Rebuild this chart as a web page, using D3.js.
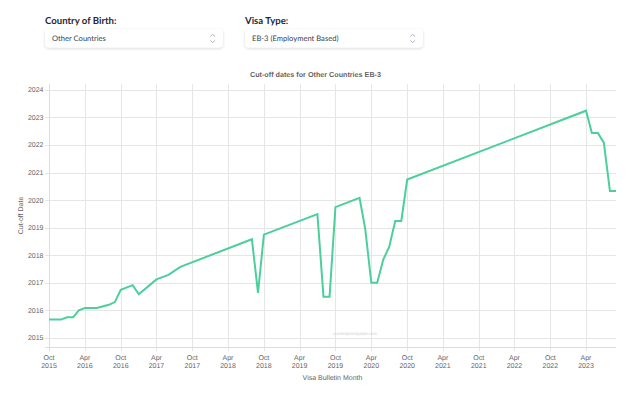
<!DOCTYPE html>
<html>
<head>
<meta charset="utf-8">
<script src="https://cdn.jsdelivr.net/npm/d3@7"></script>
<style>
  body { margin: 0; background: #fff; }
  svg { display: block; text-rendering: geometricPrecision; }
</style>
</head>
<body>
<svg width="640" height="400"></svg>
<script>
// Visa bulletin month and the EB-3 cut-off date it printed
var bulletinMonths = [
  "2015-10", "2015-12", "2016-01", "2016-02", "2016-03", "2016-04", "2016-06",
  "2016-08", "2016-09", "2016-10", "2016-12", "2017-01", "2017-04", "2017-06",
  "2017-08", "2018-08", "2018-09", "2018-10", "2019-07", "2019-08", "2019-09",
  "2019-10", "2020-02", "2020-03", "2020-04", "2020-05", "2020-06", "2020-07",
  "2020-08", "2020-09", "2020-10", "2023-04", "2023-05", "2023-06", "2023-07",
  "2023-08", "2023-09"
];
var cutoffDates = [
  "2015-09-01", "2015-09-01", "2015-10-01", "2015-10-01", "2016-01-01", "2016-02-01", "2016-02-01",
  "2016-03-15", "2016-04-20", "2016-10-01", "2016-12-01", "2016-08-01", "2017-02-15", "2017-04-15",
  "2017-08-01", "2018-08-01", "2016-08-20", "2018-10-01", "2019-07-01", "2016-07-01", "2016-07-01",
  "2019-10-01", "2020-02-01", "2018-12-15", "2017-01-01", "2017-01-01", "2017-11-05", "2018-04-20",
  "2019-04-01", "2019-04-01", "2020-10-01", "2023-04-01", "2022-06-08", "2022-06-08", "2022-02-01",
  "2020-05-01", "2020-05-01"
];
var xTickMonths = [
  "2015-10", "2016-04", "2016-10", "2017-04", "2017-10", "2018-04", "2018-10", "2019-04",
  "2019-10", "2020-04", "2020-10", "2021-04", "2021-10", "2022-04", "2022-10", "2023-04"
];
var yTickYears = [2015, 2016, 2017, 2018, 2019, 2020, 2021, 2022, 2023, 2024];

var countryLabel = "Country of Birth:";
var countryChoice = "Other Countries";
var visaLabel = "Visa Type:";
var visaChoice = "EB-3 (Employment Based)";
var chartTitle = "Cut-off dates for Other Countries EB-3";

var parseMonth = d3.timeParse("%Y-%m");
var parseDay = d3.timeParse("%Y-%m-%d");

var data = bulletinMonths.map(function(m, i) {
  return { month: parseMonth(m), cutoff: parseDay(cutoffDates[i]) };
});

var svg = d3.select("svg");

// drop-down controls at the top
var defs = svg.append("defs");
var shadow = defs.append("filter").attr("id", "shadow")
  .attr("x", "-10%").attr("y", "-30%").attr("width", "120%").attr("height", "170%");
shadow.append("feDropShadow")
  .attr("dx", 0).attr("dy", 1).attr("stdDeviation", 1.6)
  .attr("flood-color", "#000").attr("flood-opacity", 0.16);

function dropDown(x, label, choice) {
  var g = svg.append("g").attr("transform", "translate(" + x + ",0)");
  g.append("text")
    .attr("x", 0).attr("y", 24)
    .style("font-family", "Lato, sans-serif")
    .style("font-weight", 700)
    .style("font-size", "9.6px")
    .style("fill", "#1f2937")
    .text(label);
  g.append("rect")
    .attr("x", 0).attr("y", 29)
    .attr("width", 178).attr("height", 18.5)
    .attr("rx", 4)
    .style("fill", "#fff")
    .attr("filter", "url(#shadow)");
  g.append("text")
    .attr("x", 7).attr("y", 38.5)
    .attr("dy", "0.35em")
    .style("font-family", "Lato, sans-serif")
    .style("font-size", "7.6px")
    .style("fill", "#374151")
    .text(choice);
  g.append("path")
    .attr("d", "M165.3,36.6 L167.7,34.4 L170.1,36.6 M165.3,40.4 L167.7,42.6 L170.1,40.4")
    .style("fill", "none")
    .style("stroke", "#9ca3af")
    .style("stroke-width", 0.8);
}
dropDown(45, countryLabel, countryChoice);
dropDown(245, visaLabel, visaChoice);

// chart area
var plotLeft = 49, plotRight = 616, plotTop = 84, plotBottom = 347;

var x = d3.scaleTime()
  .domain([parseMonth("2015-10"), parseMonth("2023-09")])
  .range([plotLeft, plotRight]);
var y = d3.scaleTime()
  .domain([parseDay("2014-09-03"), parseDay("2024-03-20")])
  .range([plotBottom, plotTop]);

var xTicks = xTickMonths.map(parseMonth);
var yTicks = yTickYears.map(function(yr) { return new Date(yr, 0, 1); });

var gridColor = "#e6e6e6";
var textColor = "#666";
var chartFont = "'Liberation Sans', Arial, sans-serif";

// vertical grid
svg.append("g")
  .selectAll("line")
  .data(xTicks)
  .enter().append("line")
  .attr("x1", function(d) { return Math.round(x(d)) + 0.5; })
  .attr("x2", function(d) { return Math.round(x(d)) + 0.5; })
  .attr("y1", plotTop).attr("y2", plotBottom + 4)
  .style("stroke", gridColor);

// horizontal grid
svg.append("g")
  .selectAll("line")
  .data(yTicks)
  .enter().append("line")
  .attr("x1", plotLeft - 4).attr("x2", plotRight)
  .attr("y1", function(d) { return Math.round(y(d)) + 0.5; })
  .attr("y2", function(d) { return Math.round(y(d)) + 0.5; })
  .style("stroke", gridColor);

// axis lines
svg.append("line")
  .attr("x1", plotLeft - 4).attr("x2", plotRight)
  .attr("y1", plotBottom + 0.5).attr("y2", plotBottom + 0.5)
  .style("stroke", "#dcdcdc");
svg.append("line")
  .attr("x1", plotLeft + 0.5).attr("x2", plotLeft + 0.5)
  .attr("y1", plotTop).attr("y2", plotBottom + 4)
  .style("stroke", "#dcdcdc");

// x tick labels, two lines
var fmtMon = d3.timeFormat("%b"), fmtYear = d3.timeFormat("%Y");
var xLab = svg.append("g")
  .selectAll("text")
  .data(xTicks)
  .enter().append("text")
  .attr("text-anchor", "middle")
  .style("font-family", chartFont)
  .style("font-size", "7px")
  .style("fill", textColor);
xLab.append("tspan").attr("x", function(d) { return x(d); }).attr("y", 359.5)
  .text(function(d) { return fmtMon(d); });
xLab.append("tspan").attr("x", function(d) { return x(d); }).attr("y", 368.2)
  .text(function(d) { return fmtYear(d); });

// y tick labels
svg.append("g")
  .selectAll("text")
  .data(yTicks)
  .enter().append("text")
  .attr("x", 43.5)
  .attr("y", function(d) { return y(d); })
  .attr("dy", "0.35em")
  .attr("text-anchor", "end")
  .style("font-family", chartFont)
  .style("font-size", "7px")
  .style("fill", textColor)
  .text(function(d) { return fmtYear(d); });

// axis titles and chart title
svg.append("text")
  .attr("x", (plotLeft + plotRight) / 2).attr("y", 377.5)
  .attr("dy", "0.35em")
  .attr("text-anchor", "middle")
  .style("font-family", chartFont).style("font-size", "7px").style("fill", textColor)
  .text("Visa Bulletin Month");

svg.append("text")
  .attr("transform", "translate(20.7," + ((plotTop + plotBottom) / 2) + ") rotate(-90)")
  .attr("dy", "0.35em")
  .attr("text-anchor", "middle")
  .style("font-family", chartFont).style("font-size", "7px").style("fill", textColor)
  .text("Cut-off Date");

svg.append("text")
  .attr("x", 315.5).attr("y", 74.7)
  .attr("dy", "0.35em")
  .attr("text-anchor", "middle")
  .style("font-family", chartFont).style("font-size", "7.2px")
  .style("font-weight", "bold").style("fill", textColor)
  .text(chartTitle);

// watermark
svg.append("text")
  .attr("x", 355).attr("y", 333.5)
  .attr("dy", "0.35em")
  .attr("text-anchor", "middle")
  .style("font-family", chartFont).style("font-size", "4.3px").style("fill", "#cfcfcf")
  .text("currentprioritydate.com");

// the line
var line = d3.line()
  .x(function(d) { return x(d.month); })
  .y(function(d) { return y(d.cutoff); });

svg.append("path")
  .datum(data)
  .attr("d", line)
  .style("fill", "none")
  .style("stroke", "#4ccf9c")
  .style("stroke-width", 2);
</script>
</body>
</html>
